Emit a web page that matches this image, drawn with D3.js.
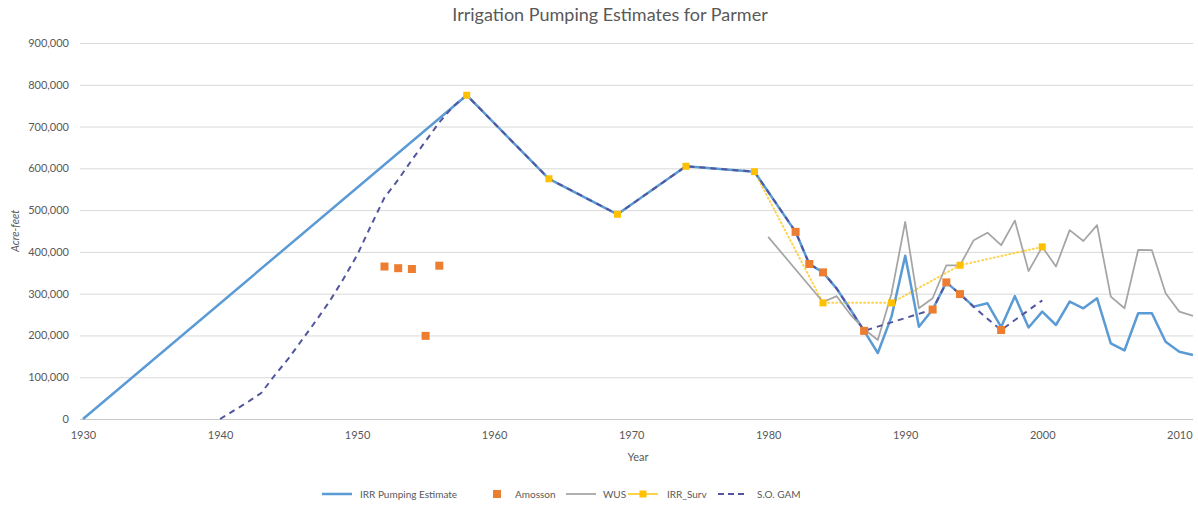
<!DOCTYPE html>
<html>
<head>
<meta charset="utf-8">
<script src="https://cdn.jsdelivr.net/npm/d3@7"></script>
<style>
  html, body { margin: 0; padding: 0; background: #ffffff; }
  svg { display: block; font-family: Lato, "Open Sans", sans-serif; }
</style>
</head>
<body>
<svg id="chart" width="1198" height="507"></svg>
<script>
// Irrigation pumping estimates for Parmer County (acre-feet)
const irrYears = [1930, 1958, 1964, 1969, 1974, 1979, 1982, 1983, 1984, 1985, 1986, 1987, 1988, 1989, 1990,
  1991, 1992, 1993, 1994, 1995, 1996, 1997, 1998, 1999, 2000, 2001, 2002, 2003, 2004, 2005, 2006, 2007,
  2008, 2009, 2010, 2011];
const irrValues = [0, 775000, 575000, 490000, 605000, 592000, 448000, 371000, 351000, 312000, 262000, 211000,
  158000, 245000, 391000, 221000, 262000, 327000, 299000, 269000, 277000, 220000, 294000, 219000, 257000,
  225000, 281000, 265000, 289000, 181000, 164000, 253000, 253000, 185000, 161000, 153000];

const amossonYears = [1952, 1953, 1954, 1955, 1956, 1982, 1983, 1984, 1987, 1992, 1993, 1994, 1997];
const amossonValues = [365000, 361000, 359000, 199000, 367000, 448000, 371000, 351000, 211000, 262000,
  327000, 299000, 213000];

const wusYears = [1980, 1984, 1985, 1986, 1987, 1988, 1989, 1990, 1991, 1992, 1993, 1994, 1995, 1996, 1997,
  1998, 1999, 2000, 2001, 2002, 2003, 2004, 2005, 2006, 2007, 2008, 2009, 2010, 2011];
const wusValues = [436000, 280000, 294000, 250000, 215000, 189000, 300000, 472000, 265000, 289000, 368000,
  368000, 428000, 446000, 416000, 475000, 354000, 412000, 365000, 452000, 426000, 464000, 293000, 265000,
  405000, 404000, 301000, 257000, 247000];

const survYears = [1958, 1964, 1969, 1974, 1979, 1984, 1989, 1994, 2000];
const survValues = [775000, 575000, 490000, 605000, 592000, 278000, 278000, 368000, 412000];

const gamYears = [1940, 1941, 1942, 1943, 1944, 1945, 1946, 1947, 1948, 1949, 1950, 1951, 1952, 1953, 1954,
  1955, 1956, 1957, 1958, 1964, 1969, 1974, 1979, 1982, 1983, 1984, 1985, 1986, 1987, 1992, 1993, 1994,
  1995, 1996, 1997, 2000];
const gamValues = [0, 20000, 40000, 62000, 105000, 145000, 190000, 235000, 282000, 335000, 392000, 462000,
  530000, 573000, 620000, 665000, 710000, 748000, 775000, 575000, 490000, 605000, 592000, 448000, 371000,
  351000, 312000, 262000, 211000, 262000, 327000, 299000, 268000, 240000, 213000, 284000];

const xTicks = [1930, 1940, 1950, 1960, 1970, 1980, 1990, 2000, 2010];
const yTicks = [0, 100000, 200000, 300000, 400000, 500000, 600000, 700000, 800000, 900000];

const titleText = "Irrigation Pumping Estimates for Parmer";
const xTitle = "Year";
const yTitle = "Acre-feet";
const seriesNames = ["IRR Pumping Estimate", "Amosson", "WUS", "IRR_Surv", "S.O. GAM"];

const colors = {
  irr: "#5b9bd5",
  amosson: "#ed7d31",
  wus: "#a5a5a5",
  surv: "#ffc000",
  gam: "#52559f",
  grid: "#d9d9d9",
  text: "#595959"
};

const svg = d3.select("#chart");
const plot = { left: 83, right: 1193, top: 43, bottom: 419 };

const x = d3.scaleLinear().domain([1930, 2011]).range([plot.left, plot.right]);
const y = d3.scaleLinear().domain([0, 900000]).range([plot.bottom, plot.top]);

const zip = (xs, vs) => xs.map((yr, i) => ({ year: yr, value: vs[i] }));
const irr = zip(irrYears, irrValues);
const amosson = zip(amossonYears, amossonValues);
const wus = zip(wusYears, wusValues);
const surv = zip(survYears, survValues);
const gam = zip(gamYears, gamValues);

// Title
svg.append("text")
  .attr("x", 610).attr("y", 21)
  .attr("text-anchor", "middle")
  .attr("font-size", 18)
  .attr("fill", colors.text)
  .text(titleText);

// Horizontal gridlines and y-axis labels
const yAxis = d3.axisLeft(y)
  .tickValues(yTicks)
  .tickSize(-(plot.right - plot.left + 3))
  .tickPadding(11)
  .tickFormat(d3.format(","));
const yG = svg.append("g")
  .attr("transform", `translate(${plot.left - 3},0)`)
  .call(yAxis);
yG.select(".domain").remove();
yG.selectAll(".tick line")
  .attr("stroke", d => d === 0 ? "#c8c8c8" : colors.grid)
  .attr("stroke-width", 1);
yG.selectAll(".tick text")
  .attr("fill", colors.text)
  .attr("font-size", 11)
  .attr("font-family", "Lato, sans-serif");

// X-axis labels
const xAxis = d3.axisBottom(x)
  .tickValues(xTicks)
  .tickSize(0)
  .tickPadding(12)
  .tickFormat(d3.format("d"));
const xG = svg.append("g")
  .attr("transform", `translate(0,${plot.bottom})`)
  .call(xAxis);
xG.select(".domain").remove();
xG.selectAll(".tick text")
  .attr("fill", colors.text)
  .attr("font-size", 11)
  .attr("font-family", "Lato, sans-serif");

// Axis titles
svg.append("text")
  .attr("x", (plot.left + plot.right) / 2).attr("y", 461)
  .attr("text-anchor", "middle")
  .attr("font-size", 11)
  .attr("fill", colors.text)
  .text(xTitle);

svg.append("text")
  .attr("transform", `translate(19,${(plot.top + plot.bottom) / 2}) rotate(-90)`)
  .attr("text-anchor", "middle")
  .attr("font-size", 11)
  .attr("font-style", "italic")
  .attr("fill", colors.text)
  .text(yTitle);

const line = d3.line().x(d => x(d.year)).y(d => y(d.value));

// Survey line sits beneath the others; where it coincides with the estimate it stays hidden
svg.append("path").datum(surv)
  .attr("d", line)
  .attr("fill", "none")
  .attr("stroke", colors.surv)
  .attr("stroke-width", 2)
  .attr("stroke-opacity", 0.7)
  .attr("stroke-dasharray", "1,3")
  .attr("stroke-linecap", "round");

svg.append("path").datum(irr)
  .attr("d", line)
  .attr("fill", "none")
  .attr("stroke", colors.irr)
  .attr("stroke-width", 2.5)
  .attr("stroke-linejoin", "round");

svg.append("path").datum(wus)
  .attr("d", line)
  .attr("fill", "none")
  .attr("stroke", colors.wus)
  .attr("stroke-width", 1.75)
  .attr("stroke-linejoin", "round");

svg.append("path").datum(gam)
  .attr("d", line)
  .attr("fill", "none")
  .attr("stroke", colors.gam)
  .attr("stroke-width", 2)
  .attr("stroke-dasharray", "6,5");

// Markers
svg.append("g").selectAll("rect").data(surv).join("rect")
  .attr("x", d => x(d.year) - 3.5)
  .attr("y", d => y(d.value) - 3.5)
  .attr("width", 7).attr("height", 7)
  .attr("fill", colors.surv);

svg.append("g").selectAll("rect").data(amosson).join("rect")
  .attr("x", d => x(d.year) - 4)
  .attr("y", d => y(d.value) - 4)
  .attr("width", 8).attr("height", 8)
  .attr("fill", colors.amosson);

// Legend
const legendY = 494;
const legend = svg.append("g").attr("font-size", 10).attr("fill", colors.text);
const legendItems = [
  { name: seriesNames[0], x: 322, textX: 360, kind: "line", color: colors.irr, width: 2.5 },
  { name: seriesNames[1], x: 493, textX: 515, kind: "marker", color: colors.amosson },
  { name: seriesNames[2], x: 566, textX: 603, kind: "line", color: colors.wus, width: 1.75 },
  { name: seriesNames[3], x: 628, textX: 667, kind: "surv", color: colors.surv },
  { name: seriesNames[4], x: 718, textX: 757, kind: "dash", color: colors.gam }
];
legendItems.forEach(it => {
  if (it.kind === "marker") {
    legend.append("rect")
      .attr("x", it.x).attr("y", legendY - 4)
      .attr("width", 8).attr("height", 8)
      .attr("fill", it.color);
  } else {
    const l = legend.append("line")
      .attr("x1", it.x).attr("x2", it.x + 30)
      .attr("y1", legendY).attr("y2", legendY)
      .attr("stroke", it.color)
      .attr("stroke-width", it.width || 2);
    if (it.kind === "dash") l.attr("stroke-dasharray", "6,4");
    if (it.kind === "surv") {
      l.attr("stroke-opacity", 0.7);
      legend.append("rect")
        .attr("x", it.x + 11.5).attr("y", legendY - 3.5)
        .attr("width", 7).attr("height", 7)
        .attr("fill", it.color);
    }
  }
  legend.append("text")
    .attr("x", it.textX).attr("y", legendY + 4)
    .text(it.name);
});
</script>
</body>
</html>
